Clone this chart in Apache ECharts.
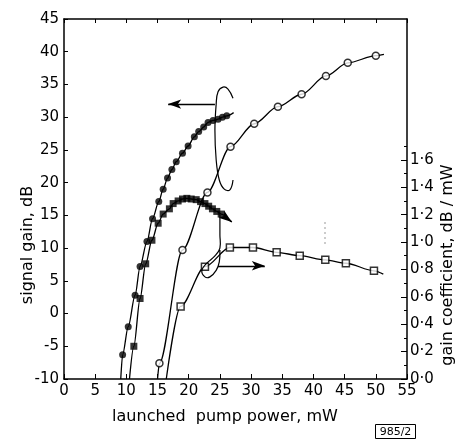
<!DOCTYPE html>
<html>
<head>
<meta charset="utf-8">
<script src="https://cdn.jsdelivr.net/npm/echarts@6/dist/echarts.min.js"></script>
<style>
  html, body { margin: 0; padding: 0; background: #fff; }
  #main { width: 456px; height: 441px; }
</style>
</head>
<body>
<div id="main"></div>
<script>
// x ticks / left ticks / right tick labels
var xTicks = [0, 5, 10, 15, 20, 25, 30, 35, 40, 45, 50, 55];
var gainTicks = [-10, -5, 0, 5, 10, 15, 20, 25, 30, 35, 40, 45];
var coefTicks = [0, 0.2, 0.4, 0.6, 0.8, 1.0, 1.2, 1.4, 1.6];
var coefMinor = [0.1, 0.3, 0.5, 0.7, 0.9, 1.1, 1.3, 1.5, 1.7];

// signal gain, filled circles  [pump mW, gain dB]
var gainFilledCircle = [[9.4,-6.3],[10.3,-2.0],[11.4,2.8],[12.2,7.2],[13.3,11.0],[14.2,14.5],[15.2,17.1],
  [15.9,19.0],[16.6,20.7],[17.3,22.0],[18.0,23.2],[19.0,24.5],[19.9,25.6],[20.9,27.0],[21.6,27.8],
  [22.4,28.5],[23.1,29.2],[23.9,29.5],[24.7,29.7],[25.4,30.0],[26.1,30.2]];
var gainFilledCircleEnds = [[9.1,-10], [27.2,30.7]];

// signal gain, filled squares
var gainFilledSquare = [[11.2,-5.0],[12.2,2.3],[13.1,7.6],[14.1,11.2],[15.1,13.8],[15.9,15.2],[16.9,16.0],
  [17.5,16.8],[18.3,17.2],[19.0,17.5],[19.7,17.6],[20.4,17.5],[21.2,17.4],[21.9,17.1],[22.6,16.8],
  [23.2,16.4],[23.8,16.0],[24.5,15.6],[25.2,15.2]];
var gainFilledSquareEnds = [[10.5,-10], [26.9,14.0]];

// signal gain, open circles
var gainOpenCircle = [[15.3,-7.6],[19.0,9.7],[23.0,18.5],[26.7,25.5],[30.5,29.0],[34.3,31.6],
  [38.1,33.5],[42.0,36.3],[45.5,38.3],[50.0,39.4]];
var gainOpenCircleEnds = [[15.0,-10], [51.3,39.6]];

// gain coefficient dB/mW, open squares (right axis)
var coefOpenSquare = [[18.7,0.53],[22.6,0.82],[26.6,0.96],[30.3,0.96],[34.1,0.925],[37.8,0.90],
  [41.9,0.87],[45.2,0.845],[49.7,0.79]];
var coefOpenSquareEnds = [[16.4,0], [51.2,0.766]];

// annotation loops, in left-axis data units
var upperLoop = [[27.1,32.9],[26.3,34.3],[25.5,34.6],[24.7,33.9],[24.4,32.0],[24.2,28.0],[24.4,23.5],
  [24.9,20.4],[25.7,19.0],[26.6,18.9],[27.1,20.4]];
var lowerLoop = [[25.0,15.1],[25.0,12.0],[25.0,10.0],[24.2,8.8],[22.9,7.7],[22.1,6.6],[22.6,5.6],
  [23.4,5.6],[24.4,6.6],[24.9,7.9],[25.0,9.7]];

function curve(pts, ends) {
  return [ends[0]].concat(pts, [ends[1]]);
}

var chart = echarts.init(document.getElementById('main'), null, { renderer: 'canvas' });
var font = 'DejaVu Sans';
var lineCol = '#000';

var option = {
  animation: false,
  backgroundColor: '#fff',
  textStyle: { fontFamily: font, color: '#000' },
  grid: { left: 64, right: 49, top: 19, bottom: 62 },
  xAxis: [{
    type: 'value', min: 0, max: 55, interval: 5,
    axisLine: { onZero: false, lineStyle: { color: lineCol, width: 1.5 } },
    axisTick: { inside: true, length: 5, lineStyle: { color: lineCol } },
    axisLabel: { margin: 5, fontSize: 15, color: '#000', fontFamily: font },
    splitLine: { show: false }
  }, {
    type: 'value', min: 0, max: 55, interval: 5, position: 'top',
    axisLine: { onZero: false, lineStyle: { color: lineCol, width: 1.5 } },
    axisTick: { inside: true, length: 4, lineStyle: { color: lineCol } },
    axisLabel: { show: false },
    splitLine: { show: false }
  }],
  yAxis: [{
    type: 'value', min: -10, max: 45, interval: 5,
    axisLine: { show: true, onZero: false, lineStyle: { color: lineCol, width: 1.5 } },
    axisTick: { show: true, inside: true, length: 4, lineStyle: { color: lineCol } },
    axisLabel: { margin: 5, fontSize: 15, color: '#000', fontFamily: font },
    splitLine: { show: false }
  }, {
    type: 'value', min: 0, max: 2.628, position: 'right',
    axisLine: { show: true, onZero: false, lineStyle: { color: lineCol, width: 1.5 } },
    axisTick: { show: true, inside: true, length: 6, customValues: coefTicks, lineStyle: { color: lineCol } },
    axisLabel: {
      margin: 3, fontSize: 15, color: '#000', fontFamily: font, customValues: coefTicks,
      formatter: function (v) { return v.toFixed(1).replace('.', '·'); }
    },
    splitLine: { show: false }
  }, {
    type: 'value', min: 0, max: 2.628, position: 'right',
    axisLine: { show: false, onZero: false },
    axisTick: { show: true, inside: true, length: 3, customValues: coefMinor, lineStyle: { color: lineCol } },
    axisLabel: { show: false },
    splitLine: { show: false }
  }],
  series: [
    {
      type: 'line', data: curve(gainFilledCircle, gainFilledCircleEnds), smooth: 0.3, smoothMonotone: 'x',
      showSymbol: false, lineStyle: { color: lineCol, width: 1.3 },
      markLine: {
        silent: true, symbol: ['none', 'arrow'], symbolSize: [7, 13], label: { show: false },
        lineStyle: { color: lineCol, width: 1.3, type: 'solid' },
        data: [
          [{ coord: [24.2, 32.0] }, { coord: [16.7, 32.0] }],
          [{ coord: [24.7, 7.3] }, { coord: [32.2, 7.3] }]
        ]
      }
    },
    {
      type: 'scatter', data: gainFilledCircle, symbol: 'circle', symbolSize: 7,
      itemStyle: { color: '#000' }, z: 3
    },
    {
      type: 'line', data: curve(gainFilledSquare, gainFilledSquareEnds), smooth: 0.3, smoothMonotone: 'x',
      showSymbol: false, lineStyle: { color: lineCol, width: 1.3 },
      markLine: {
        silent: true, symbol: ['none', 'arrow'], symbolSize: [7, 13], label: { show: false },
        lineStyle: { color: lineCol, width: 1.3, type: 'solid' },
        data: [[{ coord: [26.2, 14.5] }, { coord: [26.9, 14.0] }]]
      }
    },
    {
      type: 'scatter', data: gainFilledSquare, symbol: 'rect', symbolSize: 7,
      itemStyle: { color: '#000' }, z: 3
    },
    {
      type: 'line', data: curve(gainOpenCircle, gainOpenCircleEnds), smooth: 0.3, smoothMonotone: 'x',
      showSymbol: false, lineStyle: { color: lineCol, width: 1.3 }
    },
    {
      type: 'scatter', data: gainOpenCircle, symbol: 'circle', symbolSize: 7,
      itemStyle: { color: '#fff', borderColor: '#000', borderWidth: 1.5 }, z: 3
    },
    {
      type: 'line', yAxisIndex: 1, data: curve(coefOpenSquare, coefOpenSquareEnds), smooth: 0.3, smoothMonotone: 'x',
      showSymbol: false, lineStyle: { color: lineCol, width: 1.3 }
    },
    {
      type: 'scatter', yAxisIndex: 1, data: coefOpenSquare, symbol: 'rect', symbolSize: 7,
      itemStyle: { color: '#fff', borderColor: '#000', borderWidth: 1.5 }, z: 3
    }
  ]
};
chart.setOption(option);

function toPx(p) {
  return chart.convertToPixel({ xAxisIndex: 0, yAxisIndex: 0 }, p);
}

chart.setOption({
  graphic: [
    { type: 'polyline', shape: { points: upperLoop.map(toPx), smooth: 0.4 },
      style: { stroke: '#000', lineWidth: 1.2, fill: null }, z: 10 },
    { type: 'polyline', shape: { points: lowerLoop.map(toPx), smooth: 0.4 },
      style: { stroke: '#000', lineWidth: 1.2, fill: null }, z: 10 },
    { type: 'text', x: 28, y: 245, rotation: Math.PI / 2,
      style: { text: 'signal gain, dB', font: '16px "DejaVu Sans"', fill: '#000', align: 'center', verticalAlign: 'middle' } },
    { type: 'text', x: 448, y: 265, rotation: Math.PI / 2,
      style: { text: 'gain coefficient, dB / mW', font: '16px "DejaVu Sans"', fill: '#000', align: 'center', verticalAlign: 'middle' } },
    { type: 'text', x: 225, y: 417,
      style: { text: 'launched  pump power, mW', font: '16px "DejaVu Sans"', fill: '#000', align: 'center', verticalAlign: 'middle' } },
    { type: 'rect', shape: { x: 375.5, y: 424.5, width: 40, height: 14 },
      style: { stroke: '#000', lineWidth: 1, fill: '#fff' } },
    { type: 'text', x: 395.5, y: 432,
      style: { text: '985/2', font: '11px "DejaVu Sans"', fill: '#000', align: 'center', verticalAlign: 'middle' } },
    { type: 'line', shape: { x1: 325, y1: 222, x2: 325, y2: 245 },
      style: { stroke: '#999', lineWidth: 1, lineDash: [2, 3] } }
  ]
});
</script>
</body>
</html>
